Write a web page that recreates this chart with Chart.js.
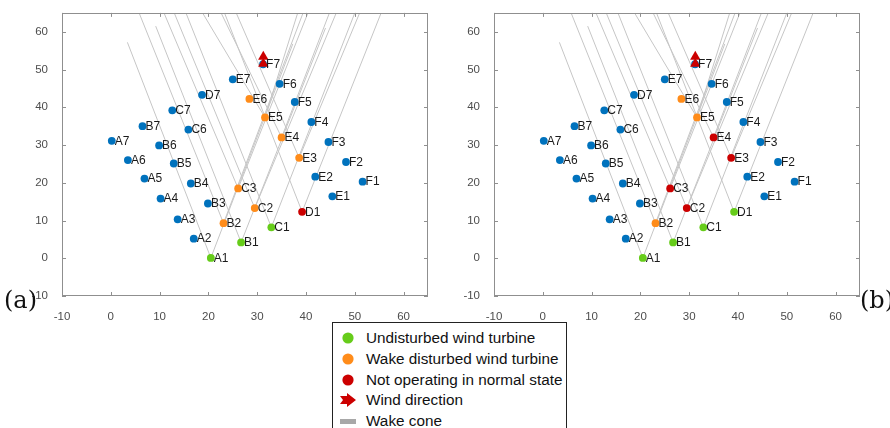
<!DOCTYPE html>
<html>
<head>
<meta charset="utf-8">
<script src="https://cdn.jsdelivr.net/npm/chart.js@4.4.1/dist/chart.umd.min.js"></script>
<style>
  body { margin:0; width:890px; height:428px; overflow:hidden; background:#fff; position:relative; font-family:"Liberation Sans", Arial, sans-serif; }
  #chartA { position:absolute; left:0; top:0; }
  #chartB { position:absolute; left:432px; top:0; }
  .tag { position:absolute; font-family:"DejaVu Serif", serif; font-size:24px; color:#111; line-height:1; }
  #legend { position:absolute; left:332px; top:322px; width:235px; height:120px; border:1px solid #222; background:#fff; box-sizing:border-box; }
  .row { position:absolute; left:0; width:100%; height:20px; }
  .row svg { position:absolute; left:5px; top:2px; }
  .row span { position:absolute; left:33px; top:1px; font-size:15.3px; line-height:18px; color:#111; white-space:nowrap; }
</style>
</head>
<body>
<canvas id="chartA" width="440" height="322"></canvas>
<canvas id="chartB" width="440" height="322"></canvas>
<div class="tag" style="left:4px; top:288px;">(a)</div>
<div class="tag" style="left:860px; top:288px;">(b)</div>

<div id="legend">
  <div class="row" style="top:5px;"><svg width="20" height="16"><circle cx="10" cy="8" r="5.6" fill="#66cc1a"/></svg><span>Undisturbed wind turbine</span></div>
  <div class="row" style="top:26px;"><svg width="20" height="16"><circle cx="10" cy="8" r="5.6" fill="#ff8c1a"/></svg><span>Wake disturbed wind turbine</span></div>
  <div class="row" style="top:46.5px;"><svg width="20" height="16"><circle cx="10" cy="8" r="5.6" fill="#cc0000"/></svg><span>Not operating in normal state</span></div>
  <div class="row" style="top:67px;"><svg width="20" height="16"><polygon points="2,4 9,4 9,1 18,8 9,15 9,12 2,12 5,8" fill="#cc0000"/></svg><span>Wind direction</span></div>
  <div class="row" style="top:87.5px;"><svg width="20" height="16"><rect x="2" y="6" width="16" height="5" fill="#a8a8a8"/></svg><span>Wake cone</span></div>
</div>

<script>
// turbine layout (same in both panels)
var turbineNames = ['A1','A2','A3','A4','A5','A6','A7',
                    'B1','B2','B3','B4','B5','B6','B7',
                    'C1','C2','C3','C6','C7',
                    'D1','D7',
                    'E1','E2','E3','E4','E5','E6','E7',
                    'F1','F2','F3','F4','F5','F6','F7'];
var turbineX = [20.5, 17.0, 13.7, 10.2, 6.9, 3.5, 0.2,
                26.7, 23.1, 19.9, 16.4, 12.9, 9.9, 6.5,
                32.9, 29.5, 26.1, 15.9, 12.6,
                39.2, 18.7,
                45.4, 41.9, 38.6, 35.0, 31.6, 28.4, 25.0,
                51.6, 48.2, 44.6, 41.1, 37.7, 34.6, 31.2];
var turbineY = [0.1, 5.2, 10.3, 15.8, 21.1, 26.0, 31.1,
                4.2, 9.3, 14.5, 19.8, 25.1, 29.9, 35.0,
                8.2, 13.3, 18.5, 34.1, 39.2,
                12.3, 43.3,
                16.4, 21.6, 26.6, 32.0, 37.3, 42.2, 47.4,
                20.3, 25.5, 30.8, 36.1, 41.4, 46.2, 51.4];

// turbine states, panel (a)
var undisturbedA = ['A1','B1','C1'];
var wakeA = ['B2','C2','C3','E3','E4','E5','E6'];
var faultA = ['D1'];
// turbine states, panel (b)
var undisturbedB = ['A1','B1','C1','D1'];
var wakeB = ['B2','E5','E6'];
var faultB = ['C2','C3','E3','E4'];

// wind direction marker (two stacked triangles)
var windX = [31.25, 31.25];
var windY = [53.4, 51.5];

// wake cones: apex turbine, left and right end points
var coneApex   = ['A1','B1','B2','C1','C2','C3','D1','E3','E4','E5'];
var coneLeftX  = [3.4, 9.2, 5.8, 15.4, 13.0, 10.9, 23.3, 25.7, 22.6, 18.8];
var coneLeftY  = [57.2, 61.5, 65, 65, 65, 65, 65, 65, 65, 65];
var coneRightX = [37.3, 44.0, 39.4, 50.0, 46.2, 40.4, 55.4, 51.0, 44.8, 38.3];
var coneRightY = [56.8, 61.0, 65, 65, 65, 65, 65, 65, 65, 65];

var BLUE = '#0072bd', GREEN = '#66cc1a', ORANGE = '#ff8c1a', RED = '#cc0000';

function pos(name) {
    var i = turbineNames.indexOf(name);
    return {x: turbineX[i], y: turbineY[i]};
}

var frame = {
    id: 'frame',
    afterDraw: function (chart) {
        var ctx = chart.ctx, a = chart.chartArea, sx = chart.scales.x, sy = chart.scales.y;
        ctx.save();
        ctx.strokeStyle = '#8f8f8f';
        ctx.lineWidth = 1;
        ctx.strokeRect(Math.round(a.left) + 0.5, Math.round(a.top) + 0.5, Math.round(a.width) - 1, Math.round(a.height) - 1);
        ctx.beginPath();
        sx.ticks.forEach(function (t) {
            var p = Math.round(sx.getPixelForValue(t.value)) + 0.5;
            ctx.moveTo(p, a.bottom); ctx.lineTo(p, a.bottom - 4);
            ctx.moveTo(p, a.top); ctx.lineTo(p, a.top + 4);
        });
        sy.ticks.forEach(function (t) {
            var p = Math.round(sy.getPixelForValue(t.value)) + 0.5;
            ctx.moveTo(a.left, p); ctx.lineTo(a.left + 4, p);
            ctx.moveTo(a.right, p); ctx.lineTo(a.right - 4, p);
        });
        ctx.stroke();
        ctx.restore();
    }
};

var nameTags = {
    id: 'nameTags',
    afterDatasetsDraw: function (chart) {
        var ctx = chart.ctx;
        ctx.save();
        ctx.font = '12px "Liberation Sans", Arial, sans-serif';
        ctx.fillStyle = '#1a1a1a';
        ctx.textBaseline = 'middle';
        chart.data.datasets.forEach(function (ds, i) {
            if (!ds.names) return;
            chart.getDatasetMeta(i).data.forEach(function (pt, j) {
                ctx.fillText(ds.names[j], pt.x + 3, pt.y + 0.5);
            });
        });
        ctx.restore();
    }
};

function turbineSet(names, color) {
    return {
        type: 'scatter',
        data: names.map(pos),
        names: names,
        backgroundColor: color,
        borderWidth: 0,
        pointRadius: 3.9,
        order: 2
    };
}

function axis(extra) {
    var s = {
        type: 'linear', min: -10, max: 65,
        afterBuildTicks: function (sc) { sc.ticks = sc.ticks.filter(function (t) { return t.value % 10 === 0; }); },
        ticks: { stepSize: 10, color: '#4d4d4d', padding: 6, maxRotation: 0,
                 font: { size: 11.5, family: '"Liberation Sans", Arial, sans-serif' } },
        grid: { display: false },
        border: { display: false }
    };
    return Object.assign(s, extra);
}

function makeChart(id, undisturbed, wake, fault, padTop) {
    var colored = undisturbed.concat(wake, fault);
    var normal = turbineNames.filter(function (n) { return colored.indexOf(n) < 0; });

    var datasets = [
        turbineSet(normal, BLUE),
        turbineSet(undisturbed, GREEN),
        turbineSet(wake, ORANGE),
        turbineSet(fault, RED),
        {
            type: 'scatter',
            data: windX.map(function (x, i) { return {x: x, y: windY[i]}; }),
            pointStyle: 'triangle',
            pointRadius: 6,
            backgroundColor: RED,
            borderColor: RED,
            borderWidth: 0,
            order: 1
        }
    ];
    coneApex.forEach(function (name, i) {
        datasets.push({
            type: 'line',
            data: [{x: coneLeftX[i], y: coneLeftY[i]}, pos(name), {x: coneRightX[i], y: coneRightY[i]}],
            borderColor: '#c6c6c6',
            borderWidth: 1,
            pointRadius: 0,
            fill: false,
            tension: 0,
            order: 3
        });
    });

    return new Chart(document.getElementById(id), {
        type: 'scatter',
        data: { datasets: datasets },
        options: {
            responsive: false,
            animation: false,
            layout: { padding: { top: padTop, right: 12, left: 0, bottom: 0 } },
            plugins: { legend: { display: false }, tooltip: { enabled: false } },
            scales: {
                x: axis({ afterFit: function (sc) { sc.height = 26; } }),
                y: axis({ afterFit: function (sc) { sc.width = 62; } })
            }
        },
        plugins: [frame, nameTags]
    });
}

makeChart('chartA', undisturbedA, wakeA, faultA, 7);
makeChart('chartB', undisturbedB, wakeB, faultB, 8);
</script>
</body>
</html>
